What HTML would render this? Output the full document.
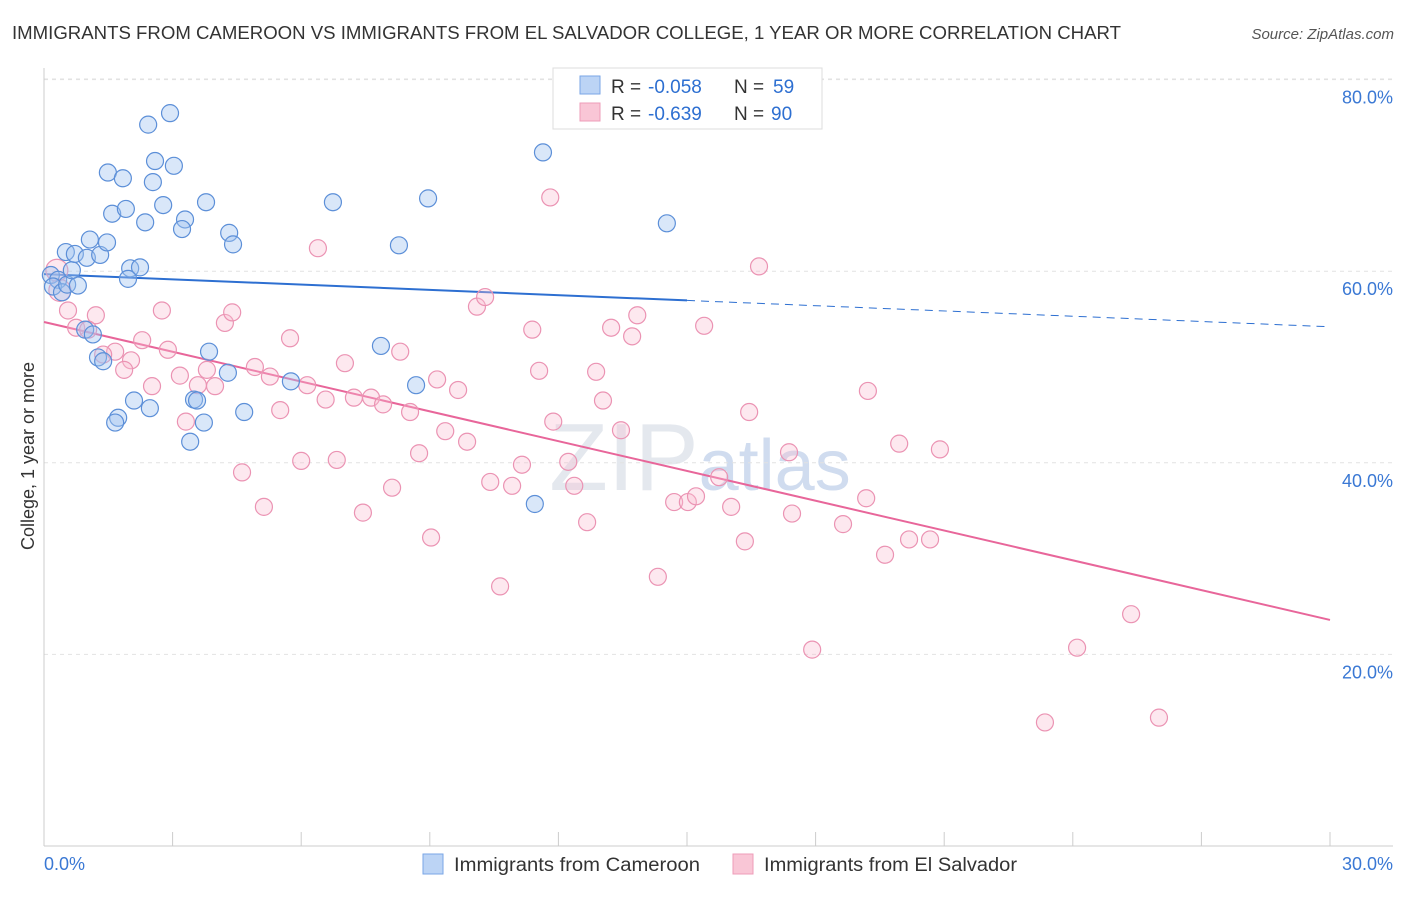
<!DOCTYPE html>
<html><head><meta charset="utf-8"><style>
body{margin:0;background:#fff;font-family:"Liberation Sans",sans-serif}
svg text{font-family:"Liberation Sans",sans-serif}
</style></head><body>
<svg width="1406" height="892" xmlns="http://www.w3.org/2000/svg">
<text x="12" y="39" font-size="18" fill="#333" textLength="1109" lengthAdjust="spacingAndGlyphs">IMMIGRANTS FROM CAMEROON VS IMMIGRANTS FROM EL SALVADOR COLLEGE, 1 YEAR OR MORE CORRELATION CHART</text>
<text x="1394" y="39" font-size="15" fill="#555" font-style="italic" text-anchor="end">Source: ZipAtlas.com</text>
<text x="700" y="490" font-size="96" fill="#e4e8ee" text-anchor="middle" font-family="Liberation Serif">ZIP<tspan font-family="Liberation Sans" font-size="72" fill="#d0dcef">atlas</tspan></text>
<g id="grid"></g><g id="axes"></g><g id="lines"></g><g id="pts"></g>
<text transform="translate(34,456) rotate(-90)" font-size="18" fill="#333" text-anchor="middle">College, 1 year or more</text>
<g>
<rect x="553" y="68" width="269" height="61" fill="#fff" stroke="#ddd"/>
<rect x="580" y="76" width="20" height="18" fill="#bcd4f5" stroke="#7aa6e6"/>
<rect x="580" y="103" width="20" height="18" fill="#f9c6d6" stroke="#ee9cb8"/>
<text y="93" font-size="19" fill="#333"><tspan x="611">R =</tspan><tspan x="648" fill="#2d6fd1">-0.058</tspan><tspan x="734">N =</tspan><tspan x="773" fill="#2d6fd1">59</tspan></text>
<text y="120" font-size="19" fill="#333"><tspan x="611">R =</tspan><tspan x="648" fill="#2d6fd1">-0.639</tspan><tspan x="734">N =</tspan><tspan x="771" fill="#2d6fd1">90</tspan></text>
</g>
<g>
<rect x="423" y="854" width="20" height="20" fill="#bcd4f5" stroke="#7aa6e6"/>
<text x="454" y="871" font-size="19" fill="#333" textLength="246" lengthAdjust="spacingAndGlyphs">Immigrants from Cameroon</text>
<rect x="733" y="854" width="20" height="20" fill="#f9c6d6" stroke="#ee9cb8"/>
<text x="764" y="871" font-size="19" fill="#333" textLength="253" lengthAdjust="spacingAndGlyphs">Immigrants from El Salvador</text>
</g>
</svg>
<script>
const yTicks=[20,40,60,80];
const yTickLabels=["20.0%","40.0%","60.0%","80.0%"];
const xTicks=[0,3,6,9,12,15,18,21,24,27,30];
const xEndLabels=["0.0%","30.0%"];
const camX=[0.16,0.33,0.21,0.42,0.54,0.79,0.65,0.51,0.72,1.0,1.07,1.31,1.47,1.49,1.84,1.59,1.91,2.43,2.94,2.59,3.03,2.54,2.78,2.36,3.29,3.22,3.78,4.32,4.41,2.01,2.24,1.96,0.96,1.14,1.26,1.38,3.85,4.29,5.76,3.5,3.57,2.1,2.47,1.73,1.66,3.73,3.41,4.67,6.74,7.86,8.28,8.68,8.96,11.64,14.53,11.45];
const camY=[59.6,59.1,58.4,57.8,58.6,58.5,60.1,62.0,61.8,61.4,63.3,61.7,63.0,70.3,69.7,66.0,66.5,75.3,76.5,71.5,71.0,69.3,66.9,65.1,65.4,64.4,67.2,64.0,62.8,60.3,60.4,59.2,53.9,53.4,51.0,50.6,51.6,49.4,48.5,46.6,46.5,46.5,45.7,44.7,44.2,44.2,42.2,45.3,67.2,52.2,62.7,48.1,67.6,72.4,65.0,35.7];
const salX=[0.30,0.37,0.56,1.21,0.75,1.03,1.66,1.38,2.03,1.87,2.29,2.89,2.52,2.75,3.17,3.31,3.59,3.99,3.80,4.22,4.39,4.92,5.27,4.62,5.13,5.74,5.51,6.14,6.00,6.39,6.57,6.83,7.02,7.23,7.44,7.63,7.91,8.31,8.54,8.12,8.75,9.03,9.17,9.36,9.66,9.87,10.10,10.29,10.41,10.64,10.92,11.15,11.39,11.55,11.88,11.81,12.23,12.37,12.67,12.88,13.04,13.23,13.46,13.72,13.84,14.32,14.70,15.02,15.21,15.40,15.75,16.03,16.35,16.45,16.68,17.38,17.45,17.92,18.64,19.18,19.22,19.62,19.95,20.18,20.67,20.90,23.35,24.10,25.36,26.01];
const salY=[60.1,58.0,55.9,55.4,54.1,53.9,51.6,51.3,50.7,49.7,52.8,51.8,48.0,55.9,49.1,44.3,48.1,48.0,49.7,54.6,55.7,50.0,49.0,39.0,35.4,53.0,45.5,48.1,40.2,62.4,46.6,40.3,50.4,46.8,34.8,46.8,46.1,51.6,45.3,37.4,41.0,32.2,48.7,43.3,47.6,42.2,56.3,57.3,38.0,27.1,37.6,39.8,53.9,49.6,44.3,67.7,40.1,37.6,33.8,49.5,46.5,54.1,43.4,53.2,55.4,28.1,35.9,35.9,36.5,54.3,38.5,35.4,31.8,45.3,60.5,41.1,34.7,20.5,33.6,36.3,47.5,30.4,42.0,32.0,32.0,41.4,12.9,20.7,24.2,13.4];
const camTrend=[59.7,54.2];
const salTrend=[54.7,23.6];
const camSolidEnd=15;
const NS="http://www.w3.org/2000/svg";
const X=v=>44+v/30*1286, Y=v=>846-v*9.58;
function mk(parent,tag,attrs){const e=document.createElementNS(NS,tag);for(const k in attrs)e.setAttribute(k,attrs[k]);document.getElementById(parent).appendChild(e);return e;}
yTicks.forEach((t,i)=>{
 let g=mk('grid','line',{x1:44,x2:1393,y1:Y(t),y2:Y(t),stroke:'#e2e2e2','stroke-dasharray':'4,4'});
 
 
 let l=mk('grid','text',{x:1393,y:Y(t)+24,'font-size':18,fill:'#3a78d4','text-anchor':'end'});l.textContent=yTickLabels[i];
 
 
});
let topGrid=mk('grid','line',{x1:44,x2:1393,y1:79,y2:79,stroke:'#e2e2e2','stroke-dasharray':'4,4'});


let ax=mk('axes','line',{x1:44,x2:44,y1:68,y2:846,stroke:'#ccc'});


let bx=mk('axes','line',{x1:44,x2:1393,y1:846,y2:846,stroke:'#ccc'});


xTicks.forEach(t=>{let k=mk('axes','line',{x1:X(t),x2:X(t),y1:832,y2:846,stroke:'#ccc'});
 
 });
[[0,'start',44],[30,'end',1393]].forEach((d,i)=>{let l=mk('axes','text',{x:d[2],y:870,'font-size':18,fill:'#3a78d4','text-anchor':d[1]});l.textContent=xEndLabels[i];
 
 });
const cy=x=>camTrend[0]+(camTrend[1]-camTrend[0])*x/30;
let t1=mk('lines','line',{x1:X(0),y1:Y(cy(0)),x2:X(camSolidEnd),y2:Y(cy(camSolidEnd)),stroke:'#2d6fd1','stroke-width':2});


let t2=mk('lines','line',{x1:X(camSolidEnd),y1:Y(cy(camSolidEnd)),x2:X(30),y2:Y(cy(30)),stroke:'#2d6fd1','stroke-width':1,'stroke-dasharray':'8,6'});


let t3=mk('lines','line',{x1:X(0),y1:Y(salTrend[0]),x2:X(30),y2:Y(salTrend[1]),stroke:'#e8669a','stroke-width':2});


salX.forEach((x,i)=>{let c=mk('pts','circle',{cx:X(x),cy:Y(salY[i]),r:i<2?11:8.5,fill:'rgba(248,190,210,0.35)',stroke:'#eb93b3','stroke-width':1.2});
 
 });
camX.forEach((x,i)=>{let c=mk('pts','circle',{cx:X(x),cy:Y(camY[i]),r:8.5,fill:'rgba(160,196,240,0.4)',stroke:'#5c8fd8','stroke-width':1.2});
 
 });
</script>
</body></html>
